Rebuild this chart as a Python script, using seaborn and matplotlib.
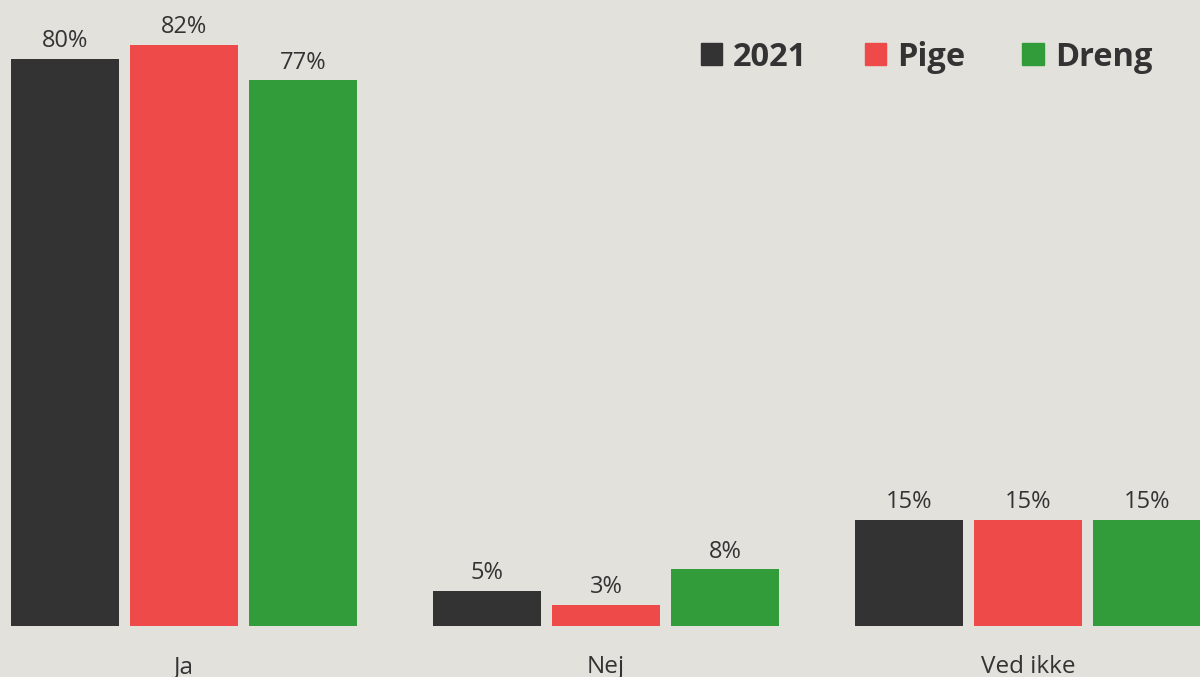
import matplotlib
matplotlib.use("Agg")
import matplotlib.pyplot as plt
import pandas as pd
import seaborn as sns

categories = ["Ja", "Nej", "Ved ikke"]
groups = ["2021", "Pige", "Dreng"]
values_2021 = [80, 5, 15]
values_pige = [82, 3, 15]
values_dreng = [77, 8, 15]

colors = {"2021": "#333333", "Pige": "#EF4A4A", "Dreng": "#339C3A"}
bg = "#E3E1DC"

rows = []
for grp, vals in zip(groups, [values_2021, values_pige, values_dreng]):
    for cat, v in zip(categories, vals):
        rows.append({"svar": cat, "gruppe": grp, "pct": v})
data = pd.DataFrame(rows)

sns.set_style("white")
plt.rcParams["font.family"] = ["Open Sans", "DejaVu Sans"]

fig = plt.figure(figsize=(12, 6.77), dpi=100)
fig.patch.set_facecolor(bg)
ax = fig.add_axes([0, 51 / 677, 1, 626 / 677])
ax.set_facecolor(bg)

sns.barplot(data=data, x="svar", y="pct", hue="gruppe", hue_order=groups,
            palette=colors, width=0.846, gap=0.09, ax=ax, legend=False,
            saturation=1, errorbar=None, linewidth=0)

for container in ax.containers:
    ax.bar_label(container, labels=[f"{v:.0f}%" for v in container.datavalues],
                 padding=4, fontsize=17, color="#333333")

ax.set_xlim(-0.436, 2.408)
ax.set_ylim(0, 88.3)
ax.set_xlabel("")
ax.set_ylabel("")
ax.set_yticks([])
ax.tick_params(axis="x", length=0, pad=21, labelsize=17.5, labelcolor="#333333")
sns.despine(ax=ax, left=True, bottom=True)

handles = [plt.Rectangle((0, 0), 1, 1, color=colors[g]) for g in groups]
leg = ax.legend(handles, groups, ncol=3, frameon=False, loc="upper right",
                bbox_to_anchor=(0.985, 0.982), handlelength=0.65, handleheight=0.65,
                handletextpad=0.35, columnspacing=1.75,
                prop={"weight": "bold", "size": 23.5})
for t in leg.get_texts():
    t.set_color("#333333")

fig.savefig("out.png", dpi=100, facecolor=bg)
